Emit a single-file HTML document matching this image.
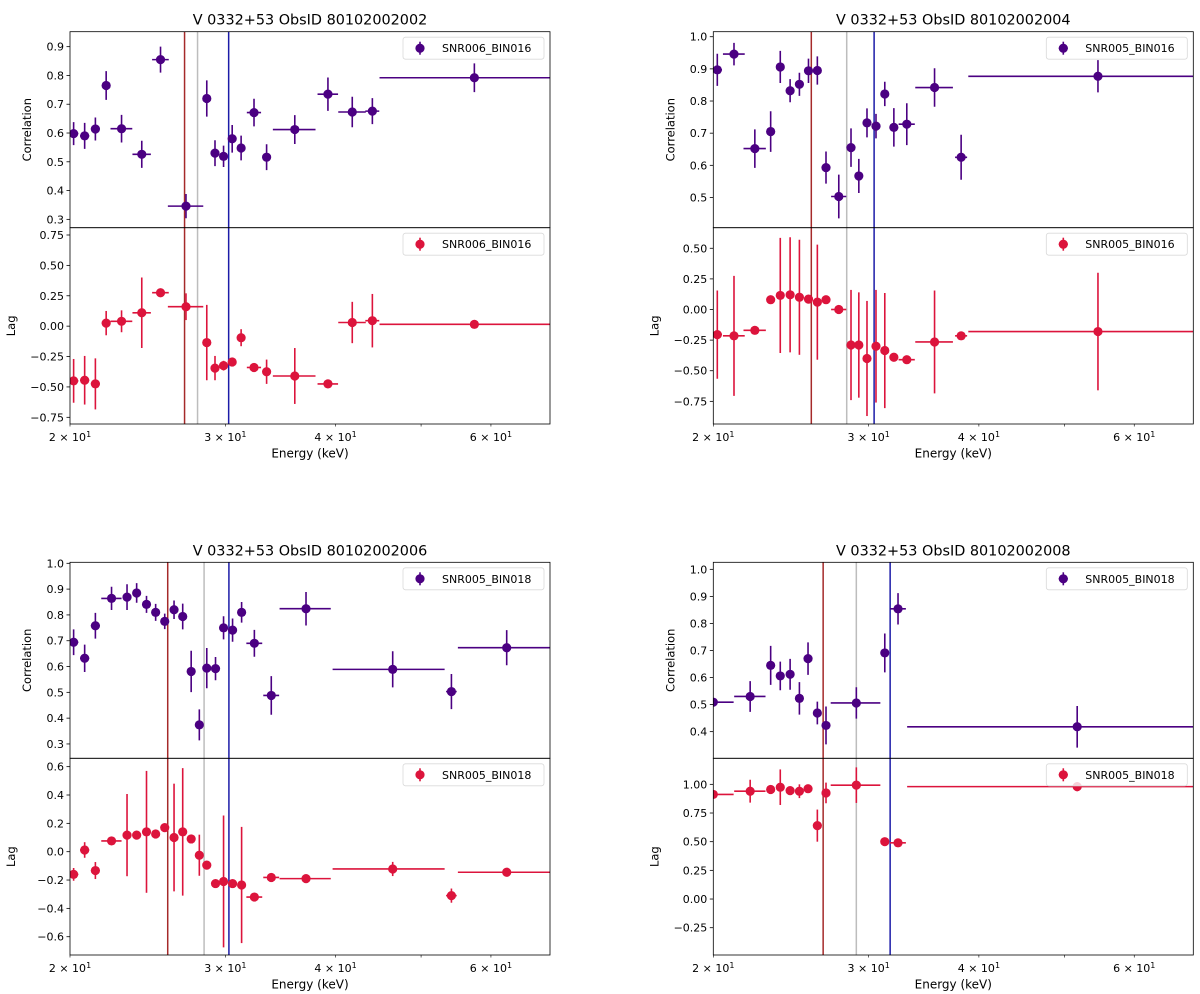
<!DOCTYPE html>
<html><head><meta charset="utf-8"><style>
html,body{margin:0;padding:0;background:#fff;}
svg{display:block;font-family:"DejaVu Sans","Liberation Sans",sans-serif;}
</style></head><body>
<svg id="fig" xmlns="http://www.w3.org/2000/svg" width="1200" height="994" viewBox="0 0 1200 994"></svg>
<script>
// ---------- Panel 1: ObsID 80102002002 ----------
const p1Energy = [20.19,20.78,21.37,21.98,22.88,24.12,25.33,27.07,28.58,29.20,29.86,30.54,31.26,32.33,33.41,35.96,39.21,41.78,44.03,57.46];
const p1EnergyErr = [0.25,0.25,0.25,0.25,0.65,0.58,0.55,1.25,0.25,0.25,0.25,0.25,0.25,0.6,0.25,2.0,1.05,1.5,0.8,12.6];
const p1Corr = [0.598,0.59,0.614,0.765,0.615,0.526,0.855,0.346,0.72,0.53,0.519,0.58,0.548,0.671,0.516,0.612,0.735,0.673,0.676,0.792];
const p1CorrErr = [0.04,0.045,0.04,0.05,0.048,0.047,0.045,0.042,0.063,0.045,0.037,0.048,0.043,0.048,0.045,0.05,0.058,0.053,0.045,0.05];
const p1Lag = [-0.45,-0.445,-0.475,0.025,0.04,0.11,0.275,0.16,-0.135,-0.345,-0.325,-0.295,-0.095,-0.34,-0.375,-0.41,-0.475,0.03,0.045,0.015];
const p1LagErr = [0.18,0.2,0.21,0.1,0.09,0.29,0.015,0.11,0.31,0.1,0.04,0.02,0.07,0.02,0.1,0.23,0.015,0.17,0.22,0.01];
const p1Lines = [26.97,27.9,30.26];

// ---------- Panel 2: ObsID 80102002004 ----------
const p2Energy = [20.21,21.11,22.29,23.23,23.82,24.44,25.04,25.64,26.24,26.84,27.75,28.65,29.24,29.87,30.58,31.29,32.04,33.14,35.63,38.19,54.58];
const p2EnergyErr = [0.25,0.6,0.65,0.25,0.25,0.25,0.25,0.25,0.25,0.25,0.55,0.25,0.25,0.25,0.25,0.25,0.25,0.7,1.75,0.6,15.67];
const p2Corr = [0.897,0.946,0.652,0.705,0.906,0.832,0.852,0.894,0.895,0.593,0.503,0.655,0.567,0.732,0.722,0.822,0.718,0.728,0.842,0.625,0.877];
const p2CorrErr = [0.05,0.035,0.06,0.063,0.05,0.036,0.036,0.038,0.044,0.05,0.068,0.06,0.053,0.045,0.038,0.038,0.06,0.065,0.06,0.07,0.05];
const p2Lag = [-0.205,-0.215,-0.17,0.08,0.115,0.12,0.1,0.085,0.06,0.08,0.0,-0.29,-0.29,-0.4,-0.3,-0.335,-0.39,-0.41,-0.265,-0.215,-0.18];
const p2LagErr = [0.36,0.49,0.01,0.01,0.47,0.47,0.47,0.01,0.47,0.01,0.01,0.45,0.43,0.47,0.46,0.47,0.01,0.01,0.42,0.01,0.48];
const p2Lines = [25.83,28.33,30.43];

// ---------- Panel 3: ObsID 80102002006 ----------
const p3Energy = [20.19,20.78,21.37,22.29,23.21,23.80,24.42,25.01,25.61,26.24,26.84,27.44,28.03,28.58,29.24,29.86,30.57,31.30,32.36,33.82,37.03,46.43,54.12,62.52];
const p3EnergyErr = [0.25,0.25,0.25,0.59,0.25,0.25,0.25,0.25,0.25,0.25,0.25,0.25,0.25,0.25,0.25,0.25,0.25,0.25,0.67,0.70,2.47,6.74,0.75,7.48];
const p3Corr = [0.694,0.632,0.758,0.864,0.869,0.885,0.841,0.81,0.775,0.82,0.794,0.581,0.374,0.594,0.592,0.75,0.741,0.81,0.69,0.488,0.824,0.589,0.503,0.673];
const p3CorrErr = [0.05,0.053,0.05,0.045,0.05,0.038,0.033,0.033,0.03,0.036,0.05,0.08,0.06,0.078,0.045,0.045,0.045,0.04,0.052,0.075,0.065,0.07,0.068,0.068];
const p3Lag = [-0.16,0.012,-0.133,0.076,0.117,0.117,0.14,0.125,0.17,0.1,0.14,0.09,-0.025,-0.095,-0.225,-0.21,-0.225,-0.235,-0.32,-0.182,-0.19,-0.122,-0.31,-0.145];
const p3LagErr = [0.045,0.055,0.06,0.01,0.29,0.01,0.43,0.01,0.01,0.38,0.45,0.01,0.145,0.01,0.01,0.465,0.01,0.41,0.01,0.03,0.01,0.05,0.05,0.01];
const p3Lines = [25.81,28.38,30.28];

// ---------- Panel 4: ObsID 80102002008 ----------
const p4Energy = [20.0,22.02,23.23,23.82,24.44,25.04,25.61,26.24,26.84,29.05,31.29,32.39,51.70];
const p4EnergyErr = [1.09,0.9,0.25,0.25,0.25,0.25,0.25,0.25,0.25,1.88,0.25,0.67,18.53];
const p4Corr = [0.509,0.53,0.645,0.606,0.612,0.523,0.67,0.469,0.423,0.506,0.691,0.854,0.418];
const p4CorrErr = [0.005,0.057,0.072,0.053,0.057,0.06,0.06,0.042,0.07,0.058,0.072,0.058,0.077];
const p4Lag = [0.912,0.94,0.955,0.975,0.945,0.94,0.962,0.64,0.925,0.993,0.5,0.49,0.98];
const p4LagErr = [0.01,0.1,0.01,0.155,0.01,0.06,0.01,0.14,0.09,0.155,0.01,0.01,0.04];
const p4Lines = [26.64,29.05,31.73];

// tick values
const corrTicks1 = [0.3,0.4,0.5,0.6,0.7,0.8,0.9];
const corrTicks2 = [0.5,0.6,0.7,0.8,0.9,1.0];
const corrTicks3 = [0.3,0.4,0.5,0.6,0.7,0.8,0.9,1.0];
const corrTicks4 = [0.4,0.5,0.6,0.7,0.8,0.9,1.0];
const lagTicks1 = [-0.75,-0.5,-0.25,0,0.25,0.5,0.75];
const lagTicks2 = [-0.75,-0.5,-0.25,0,0.25,0.5];
const lagTicks3 = [-0.6,-0.4,-0.2,0,0.2,0.4,0.6];
const lagTicks4 = [-0.25,0,0.25,0.5,0.75,1.0];
const xTickVals = [20,30,40,50,60];
const xTickMant = ["2","3","4","","6"];

const NS = "http://www.w3.org/2000/svg";
const svg = document.getElementById('fig');
const PURPLE = "#4b0082", RED = "#dc143c";
const LINECOL = ["#a52a2a","#bdbdbd","#1c1ca8"];
let clipId = 0;

function mk(tag, attrs, parent) {
  const e = document.createElementNS(NS, tag);
  for (const k in attrs) e.setAttribute(k, attrs[k]);
  (parent || svg).appendChild(e);
  return e;
}
function fmt(v, d) {
  const s = Math.abs(v).toFixed(d);
  return (v < -1e-9 ? "\u2212" : "") + s;
}

function drawSub(g, x0, x1, top, bot, ymin, ymax, ticks, dec, E, Eerr, V, Verr, color, legendText, ylabel, name) {
  const xs = e => x0 + Math.log10(e / 20) / Math.log10(70 / 20) * (x1 - x0);
  const ys = v => bot - (v - ymin) / (ymax - ymin) * (bot - top);
  ticks.forEach(t => {
    const y = ys(t);
    const tk = mk('line', {x1: x0 - 3.5, x2: x0, y1: y, y2: y, stroke: '#000', 'stroke-width': 0.8}, g);
    
    
    const tl = mk('text', {x: x0 - 6, y: y + 4, 'text-anchor': 'end', 'font-size': 11, fill: '#000'}, g);
    tl.textContent = fmt(t, dec);
    
    
  });
  const yl = mk('text', {x: 0, y: 0, 'text-anchor': 'middle', 'font-size': 11.5,
    transform: `translate(${x0 - (ylabel === 'Lag' ? 55 : 39)},${(top + bot) / 2}) rotate(-90)`}, g);
  yl.textContent = ylabel;
  
  
  const cid = 'clip' + (clipId++);
  const cp = mk('clipPath', {id: cid}, g);
  mk('rect', {x: x0, y: top, width: x1 - x0, height: bot - top}, cp);
  const dg = mk('g', {'clip-path': `url(#${cid})`}, g);
  
  
  for (let i = 0; i < E.length; i++) {
    const cx = xs(E[i]), cy = ys(V[i]);
    const hx = mk('line', {x1: xs(E[i] - Eerr[i]), x2: xs(E[i] + Eerr[i]), y1: cy, y2: cy, stroke: color, 'stroke-width': 1.6}, dg);
    
    
    const vy = mk('line', {x1: cx, x2: cx, y1: ys(V[i] - Verr[i]), y2: ys(V[i] + Verr[i]), stroke: color, 'stroke-width': 1.6}, dg);
    
    
    const c = mk('circle', {cx: cx, cy: cy, r: 4.6, fill: color}, dg);
    
    
  }
  const lg = mk('g', {}, g);
  
  
  mk('rect', {x: x1 - 147, y: top + 5.5, width: 141, height: 22, rx: 2.5, fill: 'rgba(255,255,255,0.8)', stroke: '#d9d9d9', 'stroke-width': 0.8}, lg);
  const mx = x1 - 130, my = top + 16.5;
  mk('line', {x1: mx - 4.5, x2: mx + 4.5, y1: my, y2: my, stroke: color, 'stroke-width': 1.6}, lg);
  mk('line', {x1: mx, x2: mx, y1: my - 6.5, y2: my + 6.5, stroke: color, 'stroke-width': 1.6}, lg);
  mk('circle', {cx: mx, cy: my, r: 4.6, fill: color}, lg);
  const lt = mk('text', {x: x1 - 108, y: my + 4, 'font-size': 11}, lg);
  lt.textContent = legendText;
  
  
  const fr = mk('rect', {x: x0, y: top, width: x1 - x0, height: bot - top, fill: 'none', stroke: '#000', 'stroke-width': 0.8}, g);
  
  
  return xs;
}

function drawPanel(key, x0, x1, top, mid, bot, title, lines, E, Eerr, C, Cerr, L, Lerr, cT, cDom, lT, lDom, lDec, legC, legL) {
  const g = mk('g', {});
  
  
  const tt = mk('text', {x: (x0 + x1) / 2, y: top - 7, 'text-anchor': 'middle', 'font-size': 14.4}, g);
  tt.textContent = title;
  
  
  const xs = e => x0 + Math.log10(e / 20) / Math.log10(70 / 20) * (x1 - x0);
  lines.forEach((v, i) => {
    const ln = mk('line', {x1: xs(v), x2: xs(v), y1: top, y2: bot, stroke: LINECOL[i], 'stroke-width': 1.5}, g);
    
    
  });
  drawSub(g, x0, x1, top, mid, cDom[0], cDom[1], cT, 1, E, Eerr, C, Cerr, PURPLE, legC, 'Correlation', key + '-correlation');
  drawSub(g, x0, x1, mid, bot, lDom[0], lDom[1], lT, lDec, E, Eerr, L, Lerr, RED, legL, 'Lag', key + '-lag');
  xTickVals.forEach((v, i) => {
    const x = xs(v);
    const tk = mk('line', {x1: x, x2: x, y1: bot, y2: bot + 2.5, stroke: '#000', 'stroke-width': 0.6}, g);
    
    
    if (xTickMant[i]) {
      const tl = mk('text', {x: x, y: bot + 17, 'text-anchor': 'middle', 'font-size': 11}, g);
      tl.textContent = xTickMant[i] + " \u00d7 10";
      const sp = mk('tspan', {dy: -4, 'font-size': 8}, tl);
      sp.textContent = "1";
      
      
    }
  });
  const xl = mk('text', {x: (x0 + x1) / 2, y: bot + 33.5, 'text-anchor': 'middle', 'font-size': 12}, g);
  xl.textContent = "Energy (keV)";
  
  
}

drawPanel('panel-80102002002', 70, 550, 31.7, 227.7, 424, 'V 0332+53 ObsID 80102002002', p1Lines,
  p1Energy, p1EnergyErr, p1Corr, p1CorrErr, p1Lag, p1LagErr,
  corrTicks1, [0.271, 0.952], lagTicks1, [-0.805, 0.81], 2, 'SNR006_BIN016', 'SNR006_BIN016');
drawPanel('panel-80102002004', 713.3, 1193.3, 31.7, 227.7, 424, 'V 0332+53 ObsID 80102002004', p2Lines,
  p2Energy, p2EnergyErr, p2Corr, p2CorrErr, p2Lag, p2LagErr,
  corrTicks2, [0.406, 1.0156], lagTicks2, [-0.935, 0.668], 2, 'SNR005_BIN016', 'SNR005_BIN016');
drawPanel('panel-80102002006', 70, 550, 562.3, 758.3, 955, 'V 0332+53 ObsID 80102002006', p3Lines,
  p3Energy, p3EnergyErr, p3Corr, p3CorrErr, p3Lag, p3LagErr,
  corrTicks3, [0.2444, 1.0039], lagTicks3, [-0.729, 0.659], 1, 'SNR005_BIN018', 'SNR005_BIN018');
drawPanel('panel-80102002008', 713.3, 1193.3, 562.3, 758.3, 955, 'V 0332+53 ObsID 80102002008', p4Lines,
  p4Energy, p4EnergyErr, p4Corr, p4CorrErr, p4Lag, p4LagErr,
  corrTicks4, [0.3015, 1.026], lagTicks4, [-0.488, 1.227], 2, 'SNR005_BIN018', 'SNR005_BIN018');
</script>
</body></html>
